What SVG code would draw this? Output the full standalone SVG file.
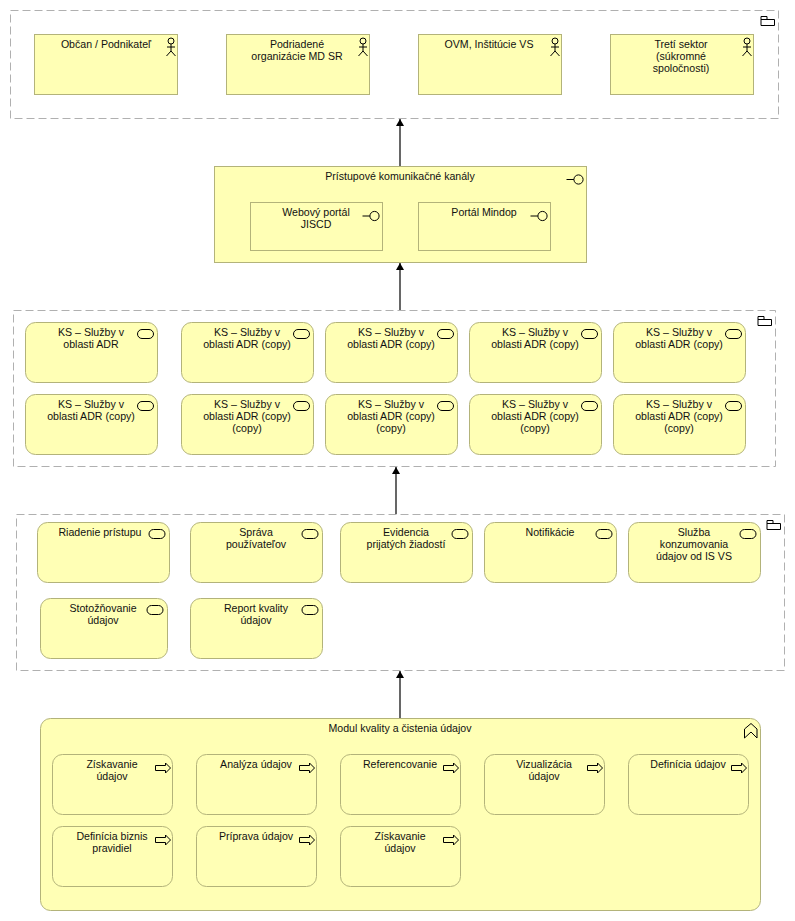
<svg xmlns="http://www.w3.org/2000/svg" width="795" height="921" viewBox="0 0 795 921">
<style>
text{font-family:"Liberation Sans",sans-serif;font-size:10.6px;fill:#111;text-anchor:middle}
.grp{fill:#fff;stroke:#b0b0b0;stroke-width:1;stroke-dasharray:8 4}
.el{fill:#ffffb5;stroke:#b3b37a;stroke-width:1}
.ic{fill:none;stroke:#000;stroke-width:1}
.con{fill:none;stroke:#000;stroke-width:1.2}
</style>
<defs>
<marker id="arr" markerUnits="userSpaceOnUse" markerWidth="8" markerHeight="9" refX="7" refY="4" orient="auto"><path d="M0 0L7 4L0 8Z" fill="#000"/></marker>
<g id="folder" class="ic"><path d="M0 9.5V0.5H6V3.5H13.500V9.500ZM0 3.500H6"/></g>
<g id="actor" class="ic"><circle cx="0" cy="3" r="3"/><path d="M-4 9H4M0 6V13M-4.500 18L0 13L4.500 18"/></g>
<g id="iface" class="ic"><circle cx="0" cy="0" r="4.600"/><path d="M-4.600 0H-12"/></g>
<rect id="svc" class="ic" x="0" y="0" width="16" height="9" rx="4.500"/>
<path id="proc" class="ic" d="M0 2.500H10V0L15 5L10 10V7.500H0Z"/>
</defs>

<g id="connectors">
<path class="con" d="M400 166V119" marker-end="url(#arr)"/>
<path class="con" d="M400 310V263" marker-end="url(#arr)"/>
<path class="con" d="M396 514V467" marker-end="url(#arr)"/>
<path class="con" d="M400 718V671" marker-end="url(#arr)"/>
</g>

<g id="group-actors"><rect class="grp" x="10.500" y="10.500" width="768" height="108"/><use href="#folder" x="761" y="16"/></g>
<g id="n1"><rect class="el" x="34.500" y="34.500" width="143" height="60"/><use href="#actor" x="171" y="38"/><text x="106" y="48">Občan / Podnikateľ</text></g>
<g id="n2"><rect class="el" x="226.500" y="34.500" width="143" height="60"/><use href="#actor" x="363" y="38"/><text x="297" y="48">Podriadené</text><text x="297" y="60">organizácie MD SR</text></g>
<g id="n3"><rect class="el" x="418.500" y="34.500" width="143" height="60"/><use href="#actor" x="555" y="38"/><text x="489" y="48">OVM, Inštitúcie VS</text></g>
<g id="n4"><rect class="el" x="610.500" y="34.500" width="143" height="60"/><use href="#actor" x="747" y="38"/><text x="681" y="48">Tretí sektor</text><text x="681" y="60">(súkromné</text><text x="681" y="72">spoločnosti)</text></g>

<g id="n5"><rect class="el" x="214.500" y="166.500" width="372" height="96"/><use href="#iface" x="578.500" y="179.500"/><text x="400" y="180">Prístupové komunikačné kanály</text></g>
<g id="n6"><rect class="el" x="250.500" y="202.500" width="132" height="48"/><use href="#iface" x="374.500" y="216"/><text x="316" y="216">Webový portál</text><text x="316" y="228">JISCD</text></g>
<g id="n7"><rect class="el" x="418.500" y="202.500" width="132" height="48"/><use href="#iface" x="542.500" y="216"/><text x="484" y="216">Portál Mindop</text></g>

<g id="group-services"><rect class="grp" x="13.500" y="310.500" width="762" height="156"/><use href="#folder" x="758" y="316"/></g>
<g id="s1"><rect class="el" x="25.500" y="322.500" width="132" height="60" rx="10"/><use href="#svc" x="137.500" y="329.500"/><text x="91" y="336">KS – Služby v</text><text x="91" y="348">oblasti ADR</text></g>
<g id="s2"><rect class="el" x="181.500" y="322.500" width="132" height="60" rx="10"/><use href="#svc" x="293.500" y="329.500"/><text x="247" y="336">KS – Služby v</text><text x="247" y="348">oblasti ADR (copy)</text></g>
<g id="s3"><rect class="el" x="325.500" y="322.500" width="132" height="60" rx="10"/><use href="#svc" x="437.500" y="329.500"/><text x="391" y="336">KS – Služby v</text><text x="391" y="348">oblasti ADR (copy)</text></g>
<g id="s4"><rect class="el" x="469.500" y="322.500" width="132" height="60" rx="10"/><use href="#svc" x="581.500" y="329.500"/><text x="535" y="336">KS – Služby v</text><text x="535" y="348">oblasti ADR (copy)</text></g>
<g id="s5"><rect class="el" x="613.500" y="322.500" width="132" height="60" rx="10"/><use href="#svc" x="725.500" y="329.500"/><text x="679" y="336">KS – Služby v</text><text x="679" y="348">oblasti ADR (copy)</text></g>
<g id="s6"><rect class="el" x="25.500" y="394.500" width="132" height="60" rx="10"/><use href="#svc" x="137.500" y="401.500"/><text x="91" y="408">KS – Služby v</text><text x="91" y="420">oblasti ADR (copy)</text></g>
<g id="s7"><rect class="el" x="181.500" y="394.500" width="132" height="60" rx="10"/><use href="#svc" x="293.500" y="401.500"/><text x="247" y="408">KS – Služby v</text><text x="247" y="420">oblasti ADR (copy)</text><text x="247" y="432">(copy)</text></g>
<g id="s8"><rect class="el" x="325.500" y="394.500" width="132" height="60" rx="10"/><use href="#svc" x="437.500" y="401.500"/><text x="391" y="408">KS – Služby v</text><text x="391" y="420">oblasti ADR (copy)</text><text x="391" y="432">(copy)</text></g>
<g id="s9"><rect class="el" x="469.500" y="394.500" width="132" height="60" rx="10"/><use href="#svc" x="581.500" y="401.500"/><text x="535" y="408">KS – Služby v</text><text x="535" y="420">oblasti ADR (copy)</text><text x="535" y="432">(copy)</text></g>
<g id="s10"><rect class="el" x="613.500" y="394.500" width="132" height="60" rx="10"/><use href="#svc" x="725.500" y="401.500"/><text x="679" y="408">KS – Služby v</text><text x="679" y="420">oblasti ADR (copy)</text><text x="679" y="432">(copy)</text></g>

<g id="group-app"><rect class="grp" x="16.500" y="514.500" width="768" height="156"/><use href="#folder" x="767" y="520"/></g>
<g id="a1"><rect class="el" x="37.500" y="522.500" width="132" height="60" rx="10"/><use href="#svc" x="149" y="529.500"/><text x="100" y="536">Riadenie prístupu</text></g>
<g id="a2"><rect class="el" x="190.500" y="522.500" width="132" height="60" rx="10"/><use href="#svc" x="302" y="529.500"/><text x="256" y="536">Správa</text><text x="256" y="548">používateľov</text></g>
<g id="a3"><rect class="el" x="340.500" y="522.500" width="132" height="60" rx="10"/><use href="#svc" x="452" y="529.500"/><text x="406" y="536">Evidencia</text><text x="406" y="548">prijatých žiadostí</text></g>
<g id="a4"><rect class="el" x="484.500" y="522.500" width="132" height="60" rx="10"/><use href="#svc" x="596" y="529.500"/><text x="550" y="536">Notifikácie</text></g>
<g id="a5"><rect class="el" x="628.500" y="522.500" width="132" height="60" rx="10"/><use href="#svc" x="740" y="529.500"/><text x="694" y="536">Služba</text><text x="694" y="548">konzumovania</text><text x="694" y="560">údajov od IS VS</text></g>
<g id="a6"><rect class="el" x="40.500" y="598.500" width="127" height="60" rx="10"/><use href="#svc" x="147" y="605.500"/><text x="103" y="612">Stotožňovanie</text><text x="103" y="624">údajov</text></g>
<g id="a7"><rect class="el" x="190.500" y="598.500" width="132" height="60" rx="10"/><use href="#svc" x="302" y="605.500"/><text x="256" y="612">Report kvality</text><text x="256" y="624">údajov</text></g>

<g id="m0"><rect class="el" x="40.500" y="718.500" width="720" height="192" rx="10"/><path class="ic" d="M744.500 729L751 723.500L757 729V738L751 732L744.500 738Z"/><text x="400" y="732">Modul kvality a čistenia údajov</text></g>
<g id="f1"><rect class="el" x="52.500" y="754.500" width="120" height="60" rx="10"/><use href="#proc" x="155.500" y="763"/><text x="112" y="768">Získavanie</text><text x="112" y="780">údajov</text></g>
<g id="f2"><rect class="el" x="196.500" y="754.500" width="120" height="60" rx="10"/><use href="#proc" x="299.500" y="763"/><text x="256" y="768">Analýza údajov</text></g>
<g id="f3"><rect class="el" x="340.500" y="754.500" width="120" height="60" rx="10"/><use href="#proc" x="443.500" y="763"/><text x="400" y="768">Referencovanie</text></g>
<g id="f4"><rect class="el" x="484.500" y="754.500" width="120" height="60" rx="10"/><use href="#proc" x="587.500" y="763"/><text x="544" y="768">Vizualizácia</text><text x="544" y="780">údajov</text></g>
<g id="f5"><rect class="el" x="628.500" y="754.500" width="120" height="60" rx="10"/><use href="#proc" x="731.500" y="763"/><text x="688" y="768">Definícia údajov</text></g>
<g id="f6"><rect class="el" x="52.500" y="826.500" width="120" height="60" rx="10"/><use href="#proc" x="155.500" y="835"/><text x="112" y="840">Definícia biznis</text><text x="112" y="852">pravidiel</text></g>
<g id="f7"><rect class="el" x="196.500" y="826.500" width="120" height="60" rx="10"/><use href="#proc" x="299.500" y="835"/><text x="256" y="840">Príprava údajov</text></g>
<g id="f8"><rect class="el" x="340.500" y="826.500" width="120" height="60" rx="10"/><use href="#proc" x="443.500" y="835"/><text x="400" y="840">Získavanie</text><text x="400" y="852">údajov</text></g>
</svg>
